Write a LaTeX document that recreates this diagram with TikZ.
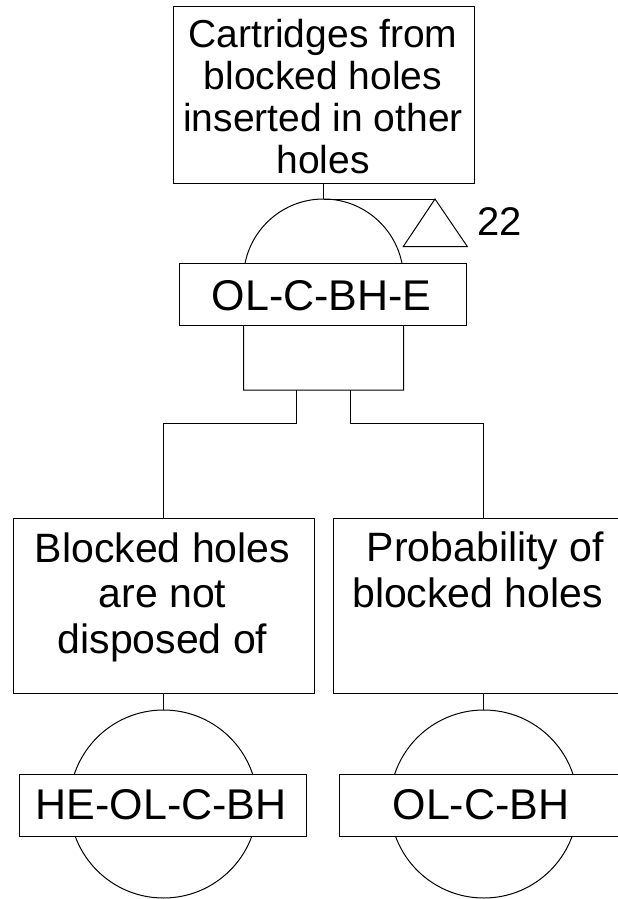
\documentclass[tikz,border=0pt]{standalone}
\usepackage{fontspec}
\setmainfont{Liberation Sans}
\begin{document}
\begin{tikzpicture}[x=1pt,y=-1pt,line width=1pt,
  box/.style={draw,fill=white,inner sep=0pt,outer sep=0pt},
  txt/.style={anchor=base,inner sep=0pt,outer sep=0pt},
  topfont/.style={font=\fontsize{39}{42}\selectfont},
  evfont/.style={font=\fontsize{41}{45}\selectfont},
  lblfont/.style={font=\fontsize{43}{46}\selectfont},
  basic/.style={circle,draw,inner sep=0pt,outer sep=0pt,minimum size=188pt}]
\useasboundingbox (0,0) rectangle (618,899);
\clip (0,0) rectangle (618,899);

% top event
\node[box,minimum width=301pt,minimum height=176pt] (top) at (323.5,95) {};
\node[txt,topfont] (top1) at (323,47.7) {Cartridges from};
\node[txt,topfont] (top2) at (323,89.6) {blocked holes};
\node[txt,topfont] (top3) at (323,131.5) {inserted in other};
\node[txt,topfont] (top4) at (323,173.3) {holes};

% AND gate
\coordinate (gtop) at (323.5,199);
\coordinate (g1) at (296.7,390);
\coordinate (g2) at (350.3,390);
\draw (top.south) -- (gtop);
\draw (243.5,390) -- (243.5,279) arc[start angle=180,end angle=360,radius=80] -- (403.5,390) -- cycle;
\node[box,minimum width=287.4pt,minimum height=61.7pt] (glabel) at (323,294.2) {};
\node[txt,lblfont] (gtext) at (321.7,310) {OL-C-BH-E};

% transfer
\coordinate (tapex) at (435,199);
\draw (gtop) -- (tapex);
\draw (tapex) -- (403.3,246.5) -- (467.3,246.5) -- cycle;
\node[txt,anchor=base west,font=\fontsize{40}{44}\selectfont] (n22) at (477,235) {22};

% child events
\node[box,minimum width=301pt,minimum height=175.5pt] (left) at (163.5,605.75) {};
\node[box,minimum width=301pt,minimum height=175.5pt] (right) at (483.8,605.75) {};
\draw (g1) -- ++(0,33) -| (left.north);
\draw (g2) -- ++(0,33) -| (right.north);

\node[txt,evfont] (l1) at (162.5,562.3) {Blocked holes};
\node[txt,evfont] (l2) at (162.5,607.7) {are not};
\node[txt,evfont] (l3) at (162.5,653.3) {disposed of};
\node[txt,evfont,anchor=base east] (r1) at (604,561.5) {Probability of};
\node[txt,evfont,anchor=base east] (r2) at (603,607.2) {blocked holes};

% basic events
\node[basic] (lc) at (163.5,804) {};
\node[basic] (rc) at (483.8,804) {};
\draw (left.south) -- (lc.north);
\draw (right.south) -- (rc.north);
\node[box,minimum width=287.4pt,minimum height=62pt] (lbl) at (163,805) {};
\node[box,minimum width=287.4pt,minimum height=62pt] (rbl) at (483.5,805) {};
\node[txt,lblfont] (lbt) at (161.3,819) {HE-OL-C-BH};
\node[txt,lblfont] (rbt) at (481,819) {OL-C-BH};
\end{tikzpicture}
\end{document}
